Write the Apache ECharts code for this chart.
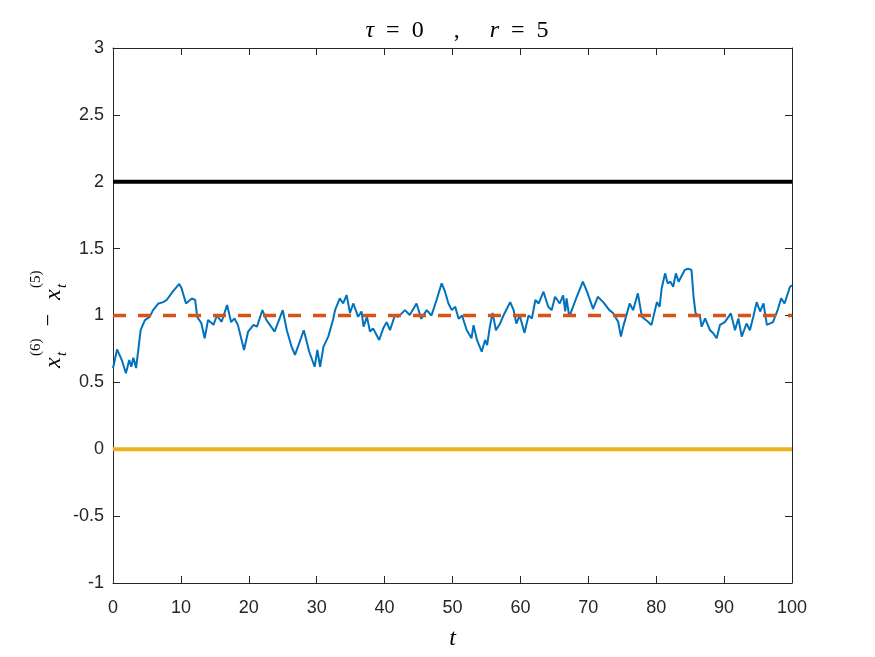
<!DOCTYPE html>
<html>
<head>
<meta charset="utf-8">
<script src="https://cdn.jsdelivr.net/npm/echarts@6/dist/echarts.min.js"></script>
<style>
html, body { margin: 0; padding: 0; background: #fff; }
#chart { width: 875px; height: 657px; }
</style>
</head>
<body>
<div id="chart"></div>
<script>
// time points and x6 - x5 difference
var tValues = [0, 0.6, 1.3, 1.9, 2.4, 2.7, 3.0, 3.4, 4.08, 4.7, 5.4, 5.9, 6.7, 7.4, 7.9, 8.8, 9.75, 10.1, 10.75, 11.6,
	12.1, 12.4, 13.0, 13.5, 14.0, 14.8, 15.3, 16.0, 16.8, 17.4, 17.9, 18.4, 19.3, 19.9, 20.7, 21.2, 22.0, 22.6, 23.1, 23.8,
	25.0, 25.6, 26.3, 26.8, 27.4, 28.1, 28.9, 29.7, 30.1, 30.5, 31.0, 31.7, 32.4, 32.7, 33.4, 33.9, 34.4, 34.9, 35.4, 36.1,
	36.6, 36.9, 37.4, 37.85, 38.3, 39.2, 39.8, 40.3, 40.8, 41.5, 42.0, 43.0, 43.7, 44.7, 45.4, 46.2, 46.9, 47.65, 48.4, 48.9,
	49.4, 49.9, 50.4, 50.9, 51.4, 52.1, 52.8, 53.1, 53.6, 54.3, 54.8, 55.1, 55.5, 55.9, 56.4, 57.0, 57.5, 58.5, 59.0, 59.4,
	59.9, 60.6, 61.2, 61.7, 62.2, 62.7, 63.4, 64.1, 64.6, 65.1, 65.8, 66.3, 66.6, 66.8, 67.2, 68.3, 69.2, 69.8, 70.7, 71.4,
	72.2, 73.1, 73.6, 74.4, 74.8, 75.2, 76.1, 76.6, 77.3, 77.9, 78.8, 79.3, 80.1, 80.5, 80.8, 81.3, 81.7, 82.1, 82.5, 82.9,
	83.3, 84.2, 84.7, 85.2, 85.5, 85.8, 86.45, 86.7, 87.2, 87.9, 88.4, 88.9, 89.4, 90.1, 91.0, 91.6, 92.1, 92.6, 93.3, 93.8,
	94.3, 94.8, 95.3, 95.8, 96.3, 97.2, 97.95, 98.4, 98.9, 99.7, 100];
var diffValues = [0.605, 0.747, 0.667, 0.568, 0.667, 0.617, 0.685, 0.607, 0.892, 0.966, 0.99, 1.04, 1.09, 1.10, 1.116, 1.178, 1.236, 1.203, 1.09, 1.128,
	1.116, 0.99, 0.944, 0.83, 0.966, 0.93, 1.0, 0.953, 1.078, 0.95, 0.978, 0.928, 0.742, 0.88, 0.93, 0.916, 1.04, 0.966, 0.93, 0.88,
	1.04, 0.89, 0.767, 0.705, 0.79, 0.89, 0.729, 0.617, 0.742, 0.617, 0.767, 0.842, 0.966, 1.04, 1.128, 1.09, 1.153, 1.02, 1.09, 0.99,
	1.03, 0.916, 0.99, 0.88, 0.904, 0.817, 0.904, 0.95, 0.89, 1.0, 0.99, 1.04, 1.004, 1.09, 0.975, 1.04, 1.0, 1.116, 1.24, 1.178,
	1.09, 1.04, 1.066, 0.975, 1.0, 0.89, 0.83, 0.928, 0.817, 0.729, 0.817, 0.779, 0.916, 1.02, 0.89, 0.94, 1.0, 1.10, 1.04, 0.94,
	1.0, 0.87, 1.0, 0.978, 1.116, 1.09, 1.178, 1.065, 1.04, 1.14, 1.09, 1.15, 1.03, 1.128, 0.99, 1.14, 1.253, 1.18, 1.05, 1.14,
	1.10, 1.04, 1.02, 0.953, 0.842, 0.928, 1.09, 1.04, 1.166, 0.99, 0.953, 0.928, 1.10, 1.065, 1.2, 1.315, 1.24, 1.253, 1.215, 1.315,
	1.253, 1.34, 1.35, 1.34, 1.14, 1.016, 0.99, 0.916, 0.978, 0.892, 0.867, 0.83, 0.93, 0.95, 1.016, 0.89, 0.978, 0.842, 0.94, 0.89,
	0.99, 1.10, 1.03, 1.09, 0.93, 0.95, 1.05, 1.128, 1.09, 1.215, 1.225];
// reference levels
var upperLevel = 2;
var meanLevel = 1;
var lowerLevel = 0;
var xRange = [0, 100];

var axisColor = '#262626';
var serif = '"Liberation Serif", "DejaVu Serif", serif';

var myChart = echarts.init(document.getElementById('chart'));

var blueData = [];
for (var i = 0; i < tValues.length; i++) {
	blueData.push([tValues[i], diffValues[i]]);
}
function flat(level) {
	return [[xRange[0], level], [xRange[1], level]];
}

var tickStyle = { show: true, inside: true, length: 7, lineStyle: { color: axisColor, width: 1 } };
var lineStyleAxis = { show: true, onZero: false, lineStyle: { color: axisColor, width: 1 } };

option = {
	backgroundColor: '#fff',
	animation: false,
	title: {
		text: '{i|τ}  =  0     ,     {i|r}  =  5',
		left: 452,
		top: 14,
		textAlign: 'center',
		textStyle: {
			fontFamily: serif,
			fontSize: 24,
			fontWeight: 'normal',
			color: '#000',
			rich: {
				i: { fontFamily: serif, fontStyle: 'italic', fontSize: 24, color: '#000' }
			}
		}
	},
	grid: {
		left: 113,
		right: 83,
		top: 48,
		bottom: 74
	},
	xAxis: [
		{
			type: 'value',
			min: 0,
			max: 100,
			interval: 10,
			position: 'bottom',
			axisLine: lineStyleAxis,
			axisTick: tickStyle,
			splitLine: { show: false },
			axisLabel: {
				color: axisColor,
				fontFamily: '"Liberation Sans", Arial, sans-serif',
				fontSize: 18,
				margin: 16
			},
			name: 't',
			nameLocation: 'middle',
			nameGap: 44,
			nameTextStyle: {
				fontFamily: serif,
				fontStyle: 'italic',
				fontSize: 24,
				color: '#000'
			}
		},
		{
			type: 'value',
			min: 0,
			max: 100,
			interval: 10,
			position: 'top',
			axisLine: lineStyleAxis,
			axisTick: tickStyle,
			splitLine: { show: false },
			axisLabel: { show: false }
		}
	],
	yAxis: [
		{
			type: 'value',
			min: -1,
			max: 3,
			interval: 0.5,
			position: 'left',
			axisLine: lineStyleAxis,
			axisTick: tickStyle,
			splitLine: { show: false },
			axisLabel: {
				color: axisColor,
				fontFamily: '"Liberation Sans", Arial, sans-serif',
				fontSize: 18,
				margin: 9
			}
		},
		{
			type: 'value',
			min: -1,
			max: 3,
			interval: 0.5,
			position: 'right',
			axisLine: lineStyleAxis,
			axisTick: tickStyle,
			splitLine: { show: false },
			axisLabel: { show: false }
		}
	],
	graphic: [
		{
			// y axis label x_t^(6) - x_t^(5), read bottom to top
			type: 'group',
			x: 60,
			y: 316,
			rotation: Math.PI / 2,
			children: [
				{ type: 'text', x: -52, y: -6, style: { text: 'x', fontFamily: serif, fontStyle: 'italic', fontSize: 24, fill: '#000', verticalAlign: 'middle' } },
				{ type: 'text', x: -40, y: -24, style: { text: '(6)', fontFamily: serif, fontSize: 15, fill: '#000', verticalAlign: 'middle' } },
				{ type: 'text', x: -40, y: 2, style: { text: 't', fontFamily: serif, fontStyle: 'italic', fontSize: 15, fill: '#000', verticalAlign: 'middle' } },
				{ type: 'text', x: -4, y: -11, style: { text: '−', fontFamily: serif, fontSize: 22, fill: '#000', align: 'center', verticalAlign: 'middle' } },
				{ type: 'text', x: 16, y: -6, style: { text: 'x', fontFamily: serif, fontStyle: 'italic', fontSize: 24, fill: '#000', verticalAlign: 'middle' } },
				{ type: 'text', x: 28, y: -24, style: { text: '(5)', fontFamily: serif, fontSize: 15, fill: '#000', verticalAlign: 'middle' } },
				{ type: 'text', x: 28, y: 2, style: { text: 't', fontFamily: serif, fontStyle: 'italic', fontSize: 15, fill: '#000', verticalAlign: 'middle' } }
			]
		}
	],
	series: [
		{
			type: 'line',
			data: blueData,
			symbol: 'none',
			z: 2,
			lineStyle: { color: '#0072BD', width: 2 }
		},
		{
			type: 'line',
			data: flat(upperLevel),
			symbol: 'none',
			z: 3,
			lineStyle: { color: '#000000', width: 4 }
		},
		{
			type: 'line',
			data: flat(meanLevel),
			symbol: 'none',
			z: 3,
			lineStyle: { color: '#D95319', width: 3.5, type: [13, 12] }
		},
		{
			type: 'line',
			data: flat(lowerLevel),
			symbol: 'none',
			z: 3,
			lineStyle: { color: '#EDB120', width: 4 }
		}
	]
};

myChart.setOption(option);
window.addEventListener("resize", function () {
	myChart.resize();
});
</script>
</body>
</html>
